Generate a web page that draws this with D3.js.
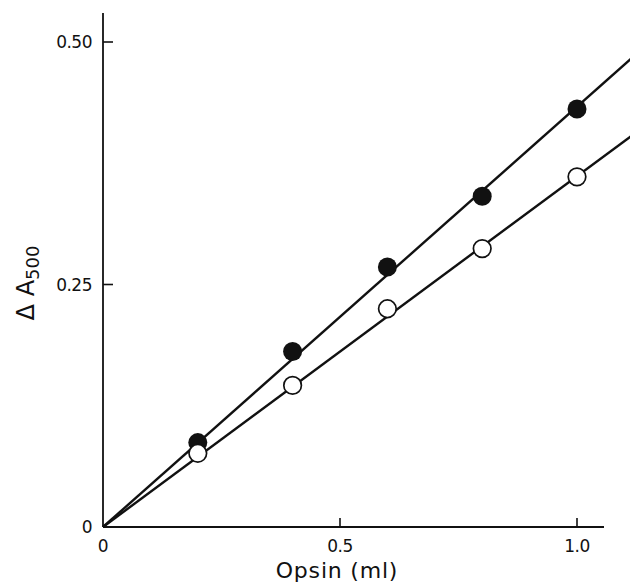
<!DOCTYPE html>
<html>
<head>
<meta charset="utf-8">
<script src="https://cdn.jsdelivr.net/npm/d3@7"></script>
<style>
  body { margin: 0; background: #fff; }
  text { font-family: "DejaVu Sans", sans-serif; fill: #111; }
</style>
</head>
<body>
<svg id="chart"></svg>
<script>
const width = 630;
const height = 585;

// Data
const opsinMl = [0.2, 0.4, 0.6, 0.8, 1.0];
const filledA500 = [0.087, 0.181, 0.268, 0.341, 0.431];
const openA500 = [0.076, 0.146, 0.225, 0.287, 0.361];
// fitted lines through origin (endpoints)
const filledFit = [[0, 0], [1.2, 0.52]];
const openFit = [[0, 0], [1.2, 0.434]];
const xTicks = [0, 0.5, 1.0];
const xTickLabels = ["0", "0.5", "1.0"];
const yTicks = [0, 0.25, 0.5];
const yTickLabels = ["0", "0.25", "0.50"];

const x = d3.scaleLinear().domain([0, 1.0]).range([103, 577]);
const y = d3.scaleLinear().domain([0, 0.5]).range([527, 42]);

const svg = d3.select("#chart").attr("width", width).attr("height", height);

// axes lines
svg.append("line")
    .attr("x1", x(0)).attr("x2", 604)
    .attr("y1", y(0)).attr("y2", y(0))
    .attr("stroke", "#111").attr("stroke-width", 2.2);
svg.append("line")
    .attr("x1", x(0)).attr("x2", x(0))
    .attr("y1", y(0)).attr("y2", 13)
    .attr("stroke", "#111").attr("stroke-width", 1.8);

// x ticks (inward)
svg.append("g")
    .selectAll("line")
    .data(xTicks.slice(1))
    .join("line")
    .attr("x1", d => x(d)).attr("x2", d => x(d))
    .attr("y1", y(0)).attr("y2", y(0) - 9)
    .attr("stroke", "#111").attr("stroke-width", 1.6);

svg.append("g")
    .selectAll("text")
    .data(xTicks)
    .join("text")
    .attr("x", d => x(d))
    .attr("y", 552)
    .attr("text-anchor", "middle")
    .style("font-size", "17px")
    .style("letter-spacing", "-0.5px")
    .text((d, i) => xTickLabels[i]);

// y ticks (inward)
svg.append("g")
    .selectAll("line")
    .data(yTicks.slice(1))
    .join("line")
    .attr("x1", x(0)).attr("x2", x(0) + 10)
    .attr("y1", d => y(d)).attr("y2", d => y(d))
    .attr("stroke", "#111").attr("stroke-width", 1.6);

svg.append("g")
    .selectAll("text")
    .data(yTicks)
    .join("text")
    .attr("x", 92)
    .attr("y", d => y(d) + 6)
    .attr("text-anchor", "end")
    .style("font-size", "17px")
    .style("letter-spacing", "-0.5px")
    .text((d, i) => yTickLabels[i]);

// axis titles
svg.append("text")
    .attr("x", 337).attr("y", 578)
    .attr("text-anchor", "middle")
    .style("font-size", "22px")
    .style("letter-spacing", "0.8px")
    .text("Opsin (ml)");

const yTitle = svg.append("text")
    .attr("transform", "translate(34,283) rotate(-90)")
    .attr("text-anchor", "middle")
    .style("font-size", "24px");
yTitle.append("tspan").text("\u0394 A");
yTitle.append("tspan").attr("dy", 5).style("font-size", "18px").text("500");

// fit lines
const line = d3.line().x(d => x(d[0])).y(d => y(d[1]));
[filledFit, openFit].forEach(f => {
    svg.append("path")
        .attr("d", line(f))
        .attr("fill", "none")
        .attr("stroke", "#111")
        .attr("stroke-width", 2.4);
});

// points
svg.append("g")
    .selectAll("circle")
    .data(opsinMl)
    .join("circle")
    .attr("cx", d => x(d))
    .attr("cy", (d, i) => y(filledA500[i]))
    .attr("r", 9.5)
    .attr("fill", "#111");

svg.append("g")
    .selectAll("circle")
    .data(opsinMl)
    .join("circle")
    .attr("cx", d => x(d))
    .attr("cy", (d, i) => y(openA500[i]))
    .attr("r", 8.8)
    .attr("fill", "#fff")
    .attr("stroke", "#111")
    .attr("stroke-width", 1.7);
</script>
</body>
</html>
